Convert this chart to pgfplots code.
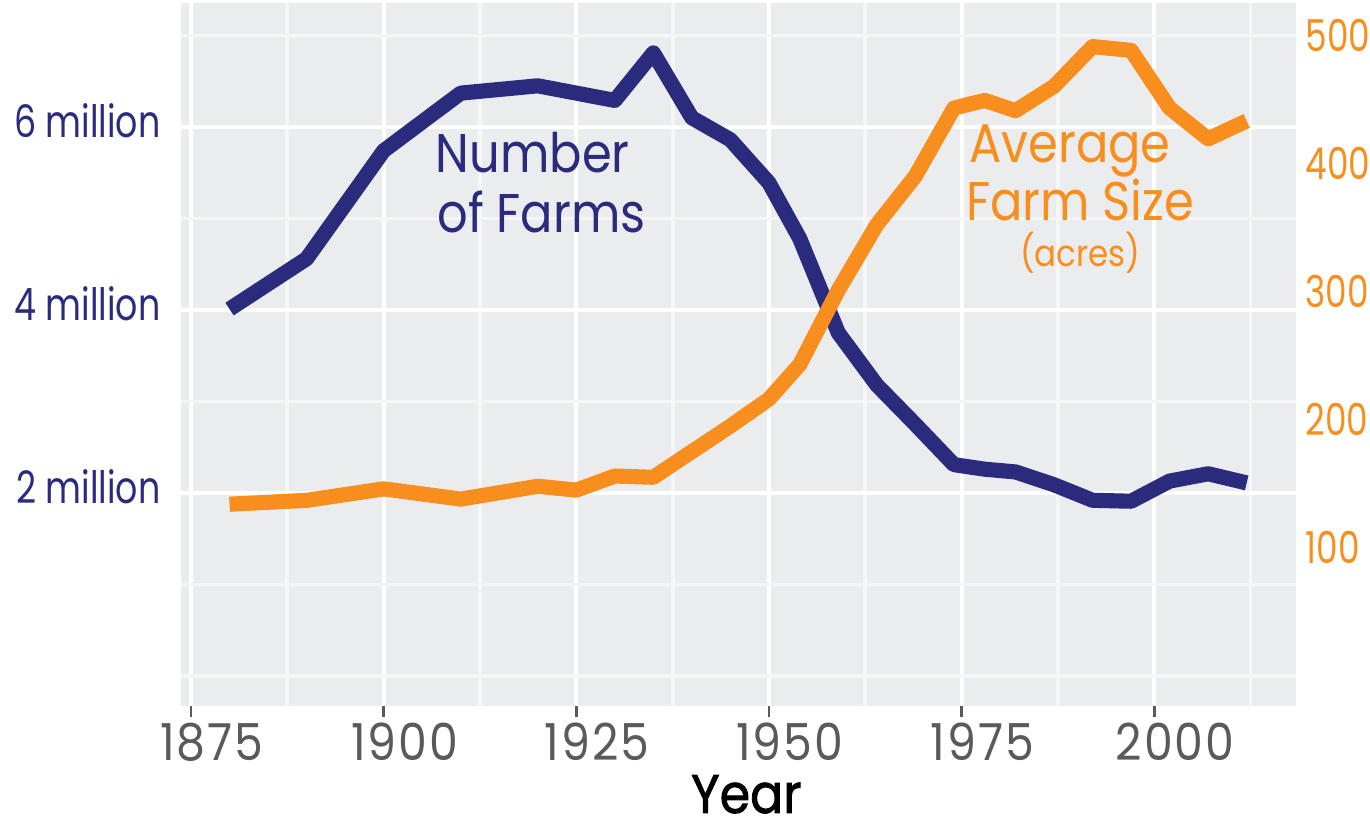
\documentclass[border=0pt]{standalone}
\usepackage{pgfplots}
\pgfplotsset{compat=1.18}
\usepackage{fontspec}
\setmainfont{Poppins}[FakeStretch=0.88]
\newfontfamily\yearfont{Poppins}[FakeStretch=0.9, FakeBold=1.5]
\newfontfamily\ytickfont{Poppins}[FakeStretch=0.78]
\newfontfamily\xtickfont{Poppins}[FakeStretch=0.9, LetterSpace=4]
\definecolor{navy}{RGB}{42,43,125}
\definecolor{orng}{RGB}{247,142,30}
\definecolor{bgc}{RGB}{235,236,238}
\definecolor{minorg}{RGB}{245,246,246}
\definecolor{tickgray}{RGB}{90,90,90}

\pgfplotstableread{
year farms
1880 4.01
1890 4.56
1900 5.74
1910 6.37
1920 6.45
1925 6.37
1930 6.29
1935 6.81
1940 6.10
1945 5.86
1950 5.39
1954 4.78
1959 3.75
1964 3.18
1969 2.75
1974 2.31
1978 2.26
1982 2.23
1987 2.09
1992 1.92
1997 1.91
2002 2.13
2007 2.21
2012 2.11
}\farmsdata

\pgfplotstableread{
year acres
1880 134
1890 137
1900 146
1910 138
1920 148
1925 145
1930 156
1935 155
1940 175
1945 195
1950 216
1954 243
1959 301
1964 352
1969 390
1974 443
1978 449
1982 441
1987 460
1992 491
1997 488
2002 443
2007 419
2012 433
}\acresdata

\begin{document}
\begin{tikzpicture}
\useasboundingbox (-1.81,-1.22) rectangle (11.89,7.06);
\begin{axis}[
  at={(0,0)}, anchor=south west,
  scale only axis, width=11.15cm, height=7.03cm,
  xmin=1873.7, xmax=2018.4, ymin=-0.328, ymax=7.355,
  /pgf/number format/assume math mode=true,
  axis background/.style={fill=bgc},
  axis line style={draw=none},
  xtick={1875,1900,1925,1950,1975,2000},
  minor xtick={1887.5,1912.5,1937.5,1962.5,1987.5,2012.5},
  ytick={2,4,6},
  minor ytick={0,1,3,5,7},
  yticklabels={2 million,4 million,6 million},
  grid=both,
  major grid style={draw=white, line width=1.1pt},
  minor grid style={draw=minorg, line width=1.1pt},
  xtick pos=bottom, ytick pos=left,
  tick align=outside,
  major tick length=0.11cm, minor tick length=0pt,
  xtick style={draw=tickgray, line width=0.8pt},
  ytick style={draw=none},
  x tick label style={font=\fontsize{14.5}{16}\xtickfont, text=tickgray, inner sep=0pt, anchor=north, yshift=-0.05cm, xshift=0.21cm},
  y tick label style={font=\fontsize{12.7}{14}\ytickfont, text=navy, inner sep=0pt, anchor=east, xshift=-0.09cm, yshift=0.06cm},
  xticklabel={\pgfmathprintnumber[1000 sep={}]{\tick}},
  xlabel={Year},
  xlabel style={font=\fontsize{15.5}{17}\yearfont, text=black, inner sep=0pt, anchor=base, at={(axis description cs:0.507,0)}, yshift=-1.07cm},
  clip=false,
]
\addplot[navy, line width=4.3pt, line join=round] table[x=year, y=farms] {\farmsdata};
\node[anchor=base west, text=navy, inner sep=0pt, font=\fontsize{15.5}{16}\selectfont] at (axis cs:1906.7,5.50) {Number};
\node[anchor=base west, text=navy, inner sep=0pt, font=\fontsize{15.5}{16}\selectfont] at (axis cs:1906.9,4.85) {of Farms};
\node[anchor=base west, text=orng, inner sep=0pt, font=\fontsize{15.5}{16}\selectfont] at (axis cs:1975.9,5.61) {Average};
\node[anchor=base west, text=orng, inner sep=0pt, font=\fontsize{15.5}{16}\selectfont] at (axis cs:1975.5,4.98) {Farm Size};
\node[anchor=base, text=orng, inner sep=0pt, font=\fontsize{10.5}{12}\selectfont] at (axis cs:1990.4,4.47) {(acres)};
\end{axis}
\begin{axis}[
  at={(0,0)}, anchor=south west,
  scale only axis, width=11.15cm, height=7.03cm,
  xmin=1873.7, xmax=2018.4, ymin=-23.4, ymax=525,
  /pgf/number format/assume math mode=true,
  hide x axis,
  axis y line*=right,
  axis line style={draw=none},
  ytick={100,200,300,400,500},
  ytick style={draw=none},
  y tick label style={font=\fontsize{12.5}{14}\ytickfont, text=orng, inner sep=0pt, anchor=west, xshift=0.09cm},
]
\addplot[orng, line width=4.3pt, line join=round] table[x=year, y=acres] {\acresdata};
\end{axis}
\end{tikzpicture}
\end{document}
